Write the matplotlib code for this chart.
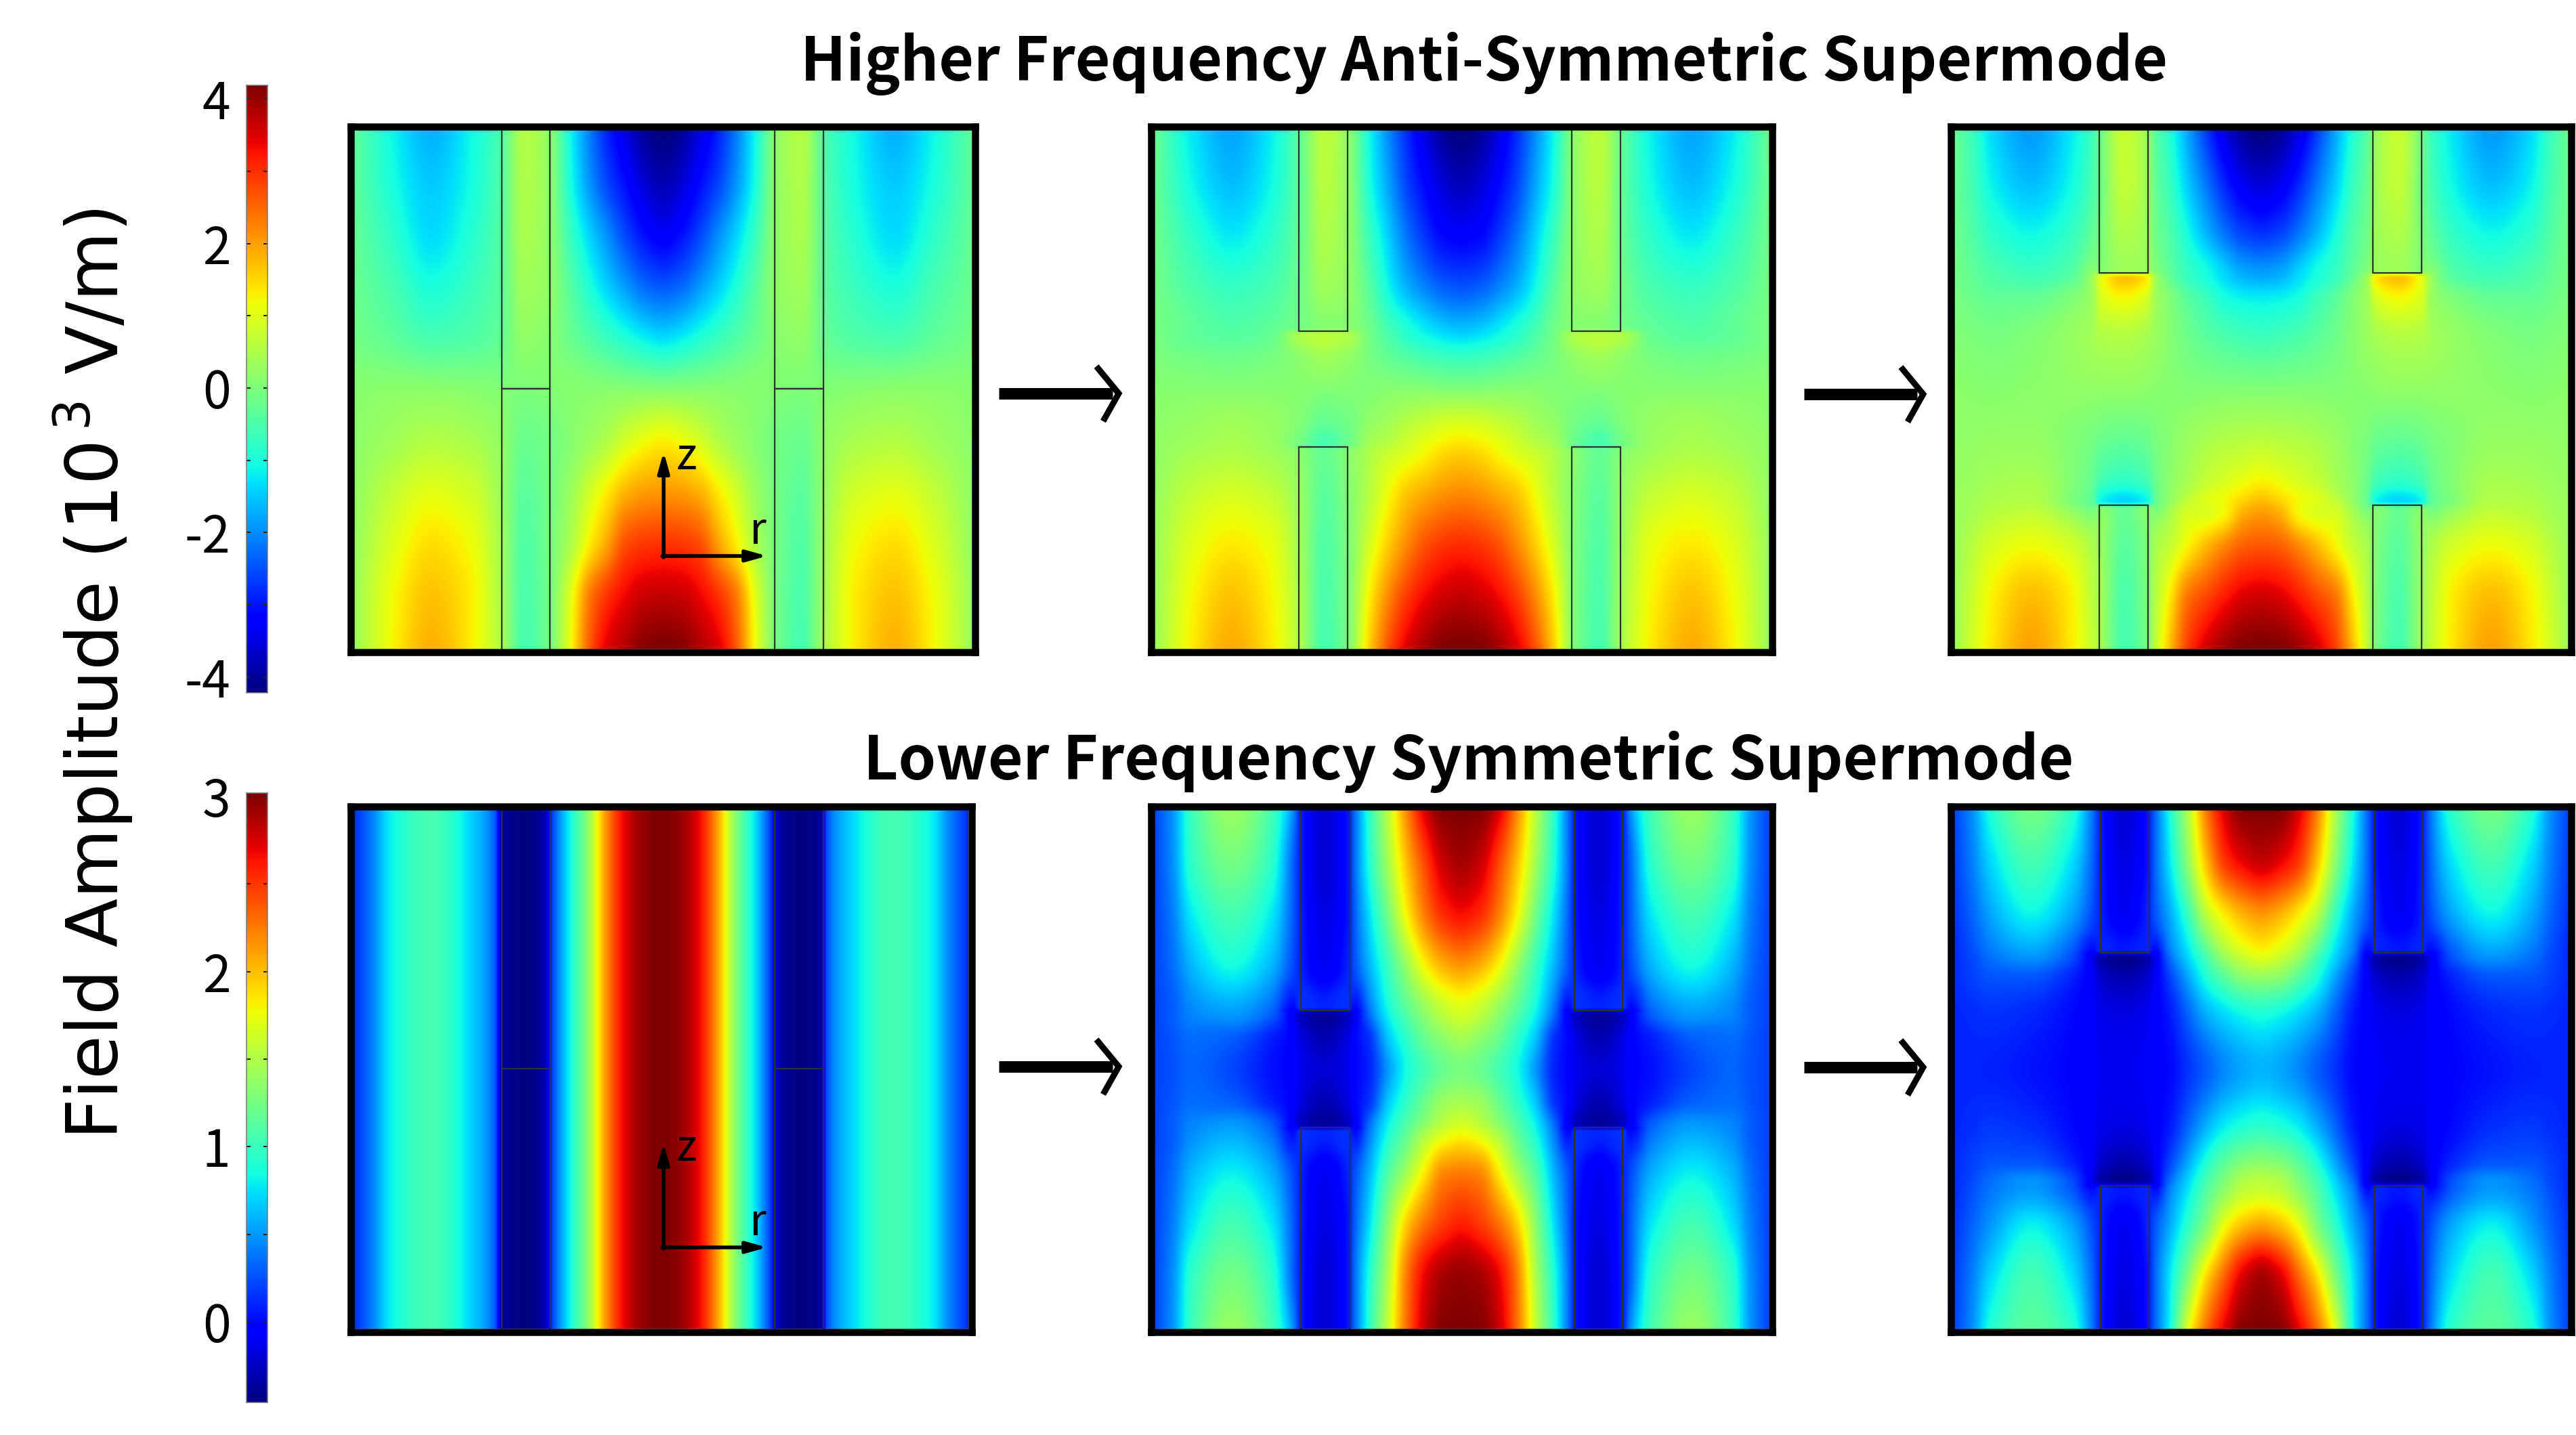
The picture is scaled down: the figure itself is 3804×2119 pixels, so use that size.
import numpy as np
import matplotlib
matplotlib.use("Agg")
import matplotlib.pyplot as plt
from matplotlib.patches import Rectangle

W, H = 3804, 2119
DPI = 100
PX = 72 / DPI  # points per pixel

TITLE_HIGH = "Higher Frequency Anti-Symmetric Supermode"
TITLE_LOW = "Lower Frequency Symmetric Supermode"
AMP_LABEL = "Field Amplitude (10$^{\\,3}$ V/m)"

# radial sample positions, rim of the cell to its axis (the field mirrors about 0.5)
R_KNOTS = [0, .06, .125, .19, .237, .276, .315, .35, .38, .41, .44, .47, .50]
R_KNOTS_UNIFORM = [0, .03, .06, .125, .19, .23, .24, .276, .31, .32, .35, .38, .41, .44, .47, .50]
R_KNOTS_EDGE = [0, .03, .06, .125, .19, .226, .237, .276, .315, .326, .35, .38, .41, .44, .47, .50]

# axial sample positions, top of the cell to the bottom
Z_GAP0 = [0, 1]
Z_GAP1 = [0, .1, .2, .3, .38, .395, .44, .5, .56, .605, .62, .7, .8, .9, 1]
Z_GAP2 = [0, .1, .2, .27, .285, .32, .4, .5, .6, .68, .715, .73, .8, .9, 1]
Z_HIGH0 = [0, .1, .2, .3, .4, .5, .6, .7, .8, .9, 1]

# anti-symmetric mode, field amplitude in 10^3 V/m
HIGH_A = [
    [-.3, -1.1, -1.7, -1.1, -.5, .55, .2, -1.1, -2.1, -2.9, -3.5, -4.05, -4.25],
    [-.3, -1.0, -1.5, -1.05, -.45, .5, .2, -1.0, -1.9, -2.6, -3.1, -3.6, -3.85],
    [-.25, -.8, -1.35, -.9, -.4, .45, .2, -.7, -1.4, -2.0, -2.6, -3.05, -3.3],
    [-.2, -.55, -1.0, -.7, -.35, .35, .2, -.4, -.95, -1.45, -1.9, -2.3, -2.45],
    [-.1, -.3, -.55, -.45, -.25, .2, .1, -.2, -.45, -.7, -.95, -1.2, -1.35],
    [.1, .15, .15, .1, .05, 0, .05, .1, .1, .1, .1, .1, .1],
    [.15, .35, .55, .45, .2, -.2, -.1, .1, .3, .55, .9, 1.15, 1.3],
    [.2, .7, 1.05, .85, .3, -.35, -.1, .3, .85, 1.35, 1.85, 2.05, 2.1],
    [.25, .95, 1.45, 1.15, .4, -.45, -.1, .5, 1.3, 2.0, 2.75, 2.95, 3.0],
    [.3, 1.15, 1.7, 1.3, .45, -.5, -.1, 1.0, 2.3, 3.0, 3.4, 3.65, 3.7],
    [.3, 1.2, 1.85, 1.3, .5, -.55, -.1, 1.15, 2.6, 3.5, 3.85, 4.15, 4.25],
]
HIGH_B = [
    [-.2, -1.25, -1.8, -1.2, -.3, .65, .2, -1.1, -2.0, -2.8, -3.5, -4.05, -4.25],
    [-.2, -1.1, -1.6, -1.1, -.3, .6, .2, -1.0, -1.8, -2.6, -3.15, -3.6, -3.8],
    [-.15, -.8, -1.25, -.85, -.25, .5, .2, -.7, -1.45, -2.2, -2.75, -3.15, -3.25],
    [-.1, -.5, -.75, -.55, -.15, .35, .2, -.4, -1.1, -1.7, -2.1, -2.4, -2.5],
    [-.05, -.3, -.45, -.3, -.1, .1, .1, -.15, -.6, -.95, -1.25, -1.5, -1.6],
    [-.05, -.3, -.4, -.25, .5, .65, .5, -.1, -.5, -.85, -1.1, -1.3, -1.4],
    [0, -.1, -.15, -.05, .15, .35, .2, -.05, -.25, -.4, -.55, -.65, -.7],
    [.1, .1, .1, .1, .1, .05, .05, .05, .1, .1, .1, .05, .05],
    [.15, .25, .35, .25, .05, -.25, -.1, .2, .35, .55, .7, .85, .9],
    [.2, .35, .45, .3, -.1, -.55, -.2, .4, .6, .85, 1.1, 1.3, 1.4],
    [.2, .4, .5, .35, .1, -.25, .1, .5, .75, .95, 1.2, 1.45, 1.55],
    [.25, .7, .9, .7, .25, -.35, .05, .6, 1.15, 1.65, 1.9, 2.1, 2.2],
    [.3, 1.0, 1.35, 1.1, .35, -.45, 0, .9, 1.6, 2.2, 2.7, 2.95, 3.05],
    [.3, 1.2, 1.7, 1.25, .45, -.5, 0, 1.3, 2.2, 2.9, 3.35, 3.6, 3.7],
    [.3, 1.3, 1.9, 1.35, .5, -.55, 0, 1.6, 2.7, 3.5, 3.95, 4.2, 4.25],
]
HIGH_C = [
    [-.2, -.7, -1.35, -1.9, -1.25, -.6, -.2, .75, .25, -.3, -.9, -1.8, -2.7, -3.5, -4.05, -4.25],
    [-.2, -.6, -1.15, -1.6, -1.1, -.5, -.2, .7, .3, -.2, -.7, -1.5, -2.2, -2.9, -3.4, -3.6],
    [-.15, -.45, -.8, -1.1, -.75, -.25, -.05, .5, .3, -.1, -.45, -1.05, -1.65, -2.2, -2.6, -2.75],
    [-.1, -.3, -.5, -.7, -.45, .1, .1, .35, .3, .1, -.3, -.75, -1.05, -1.45, -1.8, -1.9],
    [-.1, -.27, -.45, -.6, -.35, .4, 1.0, 1.7, 1.3, .45, -.2, -.7, -1.0, -1.35, -1.65, -1.75],
    [-.05, -.18, -.3, -.3, .0, .35, .9, 1.25, .9, .4, .05, -.4, -.7, -1.05, -1.2, -1.25],
    [.05, .0, -.05, .05, .25, .4, .5, .55, .4, .3, .1, -.15, -.35, -.5, -.6, -.65],
    [.15, .12, .1, .15, .2, .2, .2, .2, .15, .12, .1, .05, .05, .05, .05, .05],
    [.2, .22, .25, .25, .05, -.1, -.2, -.3, -.2, -.05, .1, .3, .45, .55, .6, .65],
    [.25, .32, .4, .45, .05, -.3, -.6, -.85, -.6, -.25, .15, .45, .75, .95, 1.15, 1.3],
    [.3, .38, .5, .55, .0, -.4, -1.1, -1.4, -1.1, -.35, .2, .7, 1.0, 1.2, 1.55, 1.75],
    [.3, .4, .55, .65, .2, -.1, .1, -.25, .1, -.05, .35, .85, .95, 1.2, 1.75, 1.95],
    [.3, .6, .9, 1.15, .85, .45, .3, -.35, .05, .4, .7, 1.25, 1.75, 2.2, 2.55, 2.65],
    [.3, .8, 1.25, 1.75, 1.3, .6, .4, -.5, .05, .5, 1.3, 2.4, 2.8, 3.2, 3.5, 3.6],
    [.3, .9, 1.35, 2.0, 1.35, .7, .45, -.55, 0, .6, 1.7, 2.9, 3.6, 4.0, 4.2, 4.25],
]

# symmetric mode, field amplitude in 10^3 V/m
LOW_A = [
    [.12, .42, .8, 1.05, .7, .25, -.35, -.45, -.3, .1, .8, 1.35, 2.15, 2.7, 2.95, 3.02],
    [.12, .42, .8, 1.05, .7, .25, -.35, -.45, -.3, .1, .8, 1.35, 2.15, 2.7, 2.95, 3.02],
]
LOW_B = [
    [.2, .5, 1.0, 1.4, 1.05, .45, .1, -.2, .05, .35, .95, 1.55, 2.2, 2.75, 3.0, 3.02],
    [.2, .48, .95, 1.25, .95, .3, .1, -.2, .05, .35, .9, 1.45, 2.0, 2.45, 2.8, 2.9],
    [.2, .42, .78, 1.05, .78, .28, .1, -.15, .05, .3, .75, 1.25, 1.8, 2.25, 2.55, 2.65],
    [.2, .36, .6, .85, .6, .22, .1, -.1, .1, .25, .6, 1.0, 1.4, 1.8, 2.05, 2.15],
    [.2, .3, .45, .55, .35, .0, .15, .1, .15, .0, .4, .85, 1.15, 1.4, 1.6, 1.7],
    [.2, .3, .43, .5, .3, -.1, -.25, -.38, -.25, -.1, .35, .8, 1.1, 1.35, 1.55, 1.65],
    [.2, .27, .35, .3, .08, -.05, -.15, -.3, -.15, -.02, .15, .65, .95, 1.2, 1.35, 1.45],
    [.2, .26, .32, .22, .03, -.05, -.12, -.2, -.12, -.03, .1, .5, .85, 1.05, 1.2, 1.27],
    [.2, .27, .35, .3, .08, -.05, -.15, -.3, -.15, -.02, .15, .65, .95, 1.2, 1.4, 1.45],
    [.2, .3, .43, .5, .3, -.1, -.25, -.38, -.25, -.1, .35, .8, 1.1, 1.35, 1.55, 1.65],
    [.2, .3, .45, .55, .35, .0, .15, .1, .15, .0, .4, .85, 1.15, 1.45, 1.65, 1.75],
    [.2, .36, .6, .8, .58, .22, .1, -.1, .1, .25, .6, 1.1, 1.45, 1.85, 2.2, 2.25],
    [.2, .42, .75, 1.05, .78, .28, .1, -.15, .05, .3, .75, 1.35, 1.95, 2.3, 2.5, 2.6],
    [.2, .48, .95, 1.25, .95, .3, .1, -.2, .05, .35, .9, 1.5, 2.25, 2.7, 2.9, 2.95],
    [.2, .5, 1.0, 1.4, 1.05, .45, .1, -.2, .05, .35, .95, 1.6, 2.3, 2.8, 3.0, 3.02],
]
LOW_C = [
    [.2, .48, .9, 1.25, .95, .35, .1, -.2, .05, .3, .85, 1.5, 2.25, 2.75, 3.0, 3.02],
    [.18, .42, .72, 1.05, .75, .3, .1, -.15, .05, .3, .75, 1.35, 2.0, 2.5, 2.7, 2.8],
    [.15, .33, .55, .82, .55, .22, .1, -.1, .1, .25, .55, 1.0, 1.55, 1.85, 2.05, 2.15],
    [.12, .25, .4, .55, .3, .0, .1, .05, .1, .0, .4, .75, 1.15, 1.5, 1.7, 1.8],
    [.12, .23, .36, .48, .25, -.15, -.32, -.42, -.32, -.15, .33, .7, 1.05, 1.4, 1.6, 1.7],
    [.12, .2, .27, .28, .1, -.1, -.22, -.32, -.22, -.1, .2, .55, .9, 1.15, 1.35, 1.4],
    [.1, .12, .14, .1, .0, -.08, -.12, -.15, -.1, -.05, .05, .3, .55, .7, .8, .85],
    [.1, .1, .09, .04, -.02, -.07, -.1, -.1, -.08, -.04, 0, .15, .3, .45, .55, .6],
    [.1, .13, .16, .12, .0, -.08, -.12, -.15, -.1, -.05, .05, .3, .55, .75, .85, .9],
    [.12, .2, .27, .28, .1, -.1, -.22, -.32, -.22, -.1, .2, .55, .9, 1.15, 1.3, 1.35],
    [.12, .23, .36, .48, .25, -.15, -.32, -.42, -.32, -.15, .33, .7, 1.05, 1.3, 1.5, 1.55],
    [.12, .25, .38, .5, .28, .0, .1, .05, .1, .0, .4, .75, 1.1, 1.35, 1.55, 1.6],
    [.15, .32, .5, .8, .55, .22, .1, -.1, .1, .25, .55, .95, 1.3, 1.75, 2.0, 2.1],
    [.18, .42, .72, 1.05, .75, .3, .1, -.15, .05, .3, .75, 1.3, 1.9, 2.35, 2.75, 2.9],
    [.2, .48, .9, 1.15, .95, .35, .1, -.2, .05, .3, .8, 1.7, 2.3, 2.72, 3.0, 3.02],
]

HIGH_RANGE = (-4.22, 4.19)
LOW_RANGE = (-0.46, 3.02)
HIGH_TICKS = [-4, -3, -2, -1, 0, 1, 2, 3, 4]
HIGH_TICK_LABELS = ["-4", "", "-2", "", "0", "", "2", "", "4"]
LOW_TICKS = [0, .5, 1, 1.5, 2, 2.5, 3]
LOW_TICK_LABELS = ["0", "", "1", "", "2", "", "3"]


def monotone_resample(x, y, xq):
    """Piecewise-cubic monotone resampling of the rows of y along x."""
    x = np.asarray(x, float)
    y = np.asarray(y, float)
    h = np.diff(x)[:, None]
    d = np.diff(y, axis=0) / h
    m = np.zeros_like(y)
    m[0], m[-1] = d[0], d[-1]
    if len(x) > 2:
        w1 = 2 * h[1:] + h[:-1]
        w2 = h[1:] + 2 * h[:-1]
        same = d[:-1] * d[1:] > 0
        safe0 = np.where(same, d[:-1], 1.0)
        safe1 = np.where(same, d[1:], 1.0)
        m[1:-1] = np.where(same, (w1 + w2) / (w1 / safe0 + w2 / safe1), 0.0)
    idx = np.clip(np.searchsorted(x, xq, side="right") - 1, 0, len(x) - 2)
    hh = (x[idx + 1] - x[idx])
    t = ((xq - x[idx]) / hh)[:, None]
    hh = hh[:, None]
    return ((2 * t**3 - 3 * t**2 + 1) * y[idx] + (t**3 - 2 * t**2 + t) * hh * m[idx]
            + (-2 * t**3 + 3 * t**2) * y[idx + 1] + (t**3 - t**2) * hh * m[idx + 1])


def field_image(r_knots, z_knots, table, nz=766, nr=910):
    """Mirror a half-cell table about the axis and resample it to a fine image."""
    table = np.asarray(table, float)
    full = np.hstack([table, table[:, -2::-1]])
    r_half = np.asarray(r_knots)
    r_full = np.concatenate([r_half, 1 - r_half[-2::-1]])
    zq = (np.arange(nz) + .5) / nz
    rq = (np.arange(nr) + .5) / nr
    along_z = monotone_resample(z_knots, full, zq)
    return monotone_resample(r_full, along_z.T, rq).T


def px_axes(fig, x0, y0, x1, y1, **kw):
    return fig.add_axes([x0 / W, 1 - y1 / H, (x1 - x0) / W, (y1 - y0) / H], **kw)


fig = plt.figure(figsize=(W / DPI, H / DPI), dpi=DPI, facecolor="white")

FRAME = 10.5
HIGH_Y, LOW_Y = (192, 958), (1196, 1962)
ROD_EDGES = {
    "high": [((741, 812), (1144, 1216)), ((1918, 1990), (2321, 2393)), ((3100, 3172), (3504, 3576))],
    "low": [((741, 812), (1144, 1216)), ((1921, 1993), (2325, 2396)), ((3102, 3174), (3506, 3578))],
}
PANELS = [
    (523, 1435, HIGH_Y, R_KNOTS, Z_HIGH0, HIGH_A, HIGH_RANGE, ROD_EDGES["high"][0], (574, 574)),
    (1705, 2612, HIGH_Y, R_KNOTS, Z_GAP1, HIGH_B, HIGH_RANGE, ROD_EDGES["high"][1], (489, 660)),
    (2886, 3792, HIGH_Y, R_KNOTS_EDGE, Z_GAP2, HIGH_C, HIGH_RANGE, ROD_EDGES["high"][2], (403, 746)),
    (523, 1430, LOW_Y, R_KNOTS_UNIFORM, Z_GAP0, LOW_A, LOW_RANGE, ROD_EDGES["low"][0], (1578, 1578)),
    (1705, 2612, LOW_Y, R_KNOTS_EDGE, Z_GAP1, LOW_B, LOW_RANGE, ROD_EDGES["low"][1], (1492, 1665)),
    (2886, 3792, LOW_Y, R_KNOTS_EDGE, Z_GAP2, LOW_C, LOW_RANGE, ROD_EDGES["low"][2], (1407, 1751)),
]

for x0, x1, (y0, y1), r_knots, z_knots, table, vrange, rods, tips in PANELS:
    half = FRAME / 2
    ax = px_axes(fig, x0 - half, y0 - half, x1 + half, y1 + half)
    ax.imshow(field_image(r_knots, z_knots, table), cmap="jet", vmin=vrange[0], vmax=vrange[1],
              extent=[x0, x1, y1, y0], aspect="auto", interpolation="bilinear")
    ax.set_xlim(x0 - half, x1 + half)
    ax.set_ylim(y1 + half, y0 - half)
    ax.set_xticks([])
    ax.set_yticks([])
    for s in ax.spines.values():
        s.set_linewidth(FRAME * PX)
        s.set_color("black")
    for ra, rb in rods:
        for za, zb in ((y0 - 10, tips[0]), (tips[1], y1 + 10)):
            ax.add_patch(Rectangle((ra, za), rb - ra, zb - za, fill=False,
                                   ec="#2b3030", lw=2.2 * PX, zorder=3))
    for s in ax.spines.values():
        s.set_zorder(5)

# colour scales beside each row
SCALES = [
    (126, 1023, HIGH_RANGE, HIGH_TICKS, HIGH_TICK_LABELS),
    (1171, 2071, LOW_RANGE, LOW_TICKS, LOW_TICK_LABELS),
]
for y0, y1, vrange, ticks, labels in SCALES:
    cax = px_axes(fig, 364, y0, 395, y1)
    grad = np.linspace(vrange[1], vrange[0], 512)[:, None]
    cax.imshow(grad, cmap="jet", vmin=vrange[0], vmax=vrange[1], aspect="auto",
               extent=[0, 1, vrange[0], vrange[1]])
    cax.set_xticks([])
    cax.yaxis.set_ticks_position("both")
    cax.set_yticks(ticks)
    cax.set_yticklabels(labels, family="Noto Sans CJK SC", fontsize=54, color="black")
    cax.tick_params(axis="y", direction="in", length=4, width=2 * PX,
                    color="#222222", pad=17)
    for s in cax.spines.values():
        s.set_linewidth(1.5 * PX)
        s.set_color("#777777")

# full-figure overlay in pixel coordinates for captions and arrows
ov = fig.add_axes([0, 0, 1, 1], facecolor="none")
ov.set_xlim(0, W)
ov.set_ylim(H, 0)
ov.axis("off")

title_font = ["Noto Sans CJK SC", "DejaVu Sans"]
ov.text(2192, 94, TITLE_HIGH, family=title_font, weight="bold", fontsize=64, ha="center", va="center")
ov.text(2169, 1125, TITLE_LOW, family=title_font, weight="bold", fontsize=64, ha="center", va="center")
ov.text(138, 995, AMP_LABEL, family="DejaVu Sans", fontsize=76, rotation=90, ha="center", va="center")

for ox, oy in ((980, 821), (980, 1842)):
    ov.annotate("", xy=(ox, oy - 154), xytext=(ox, oy + 2),
                arrowprops=dict(arrowstyle="-|>,head_length=1.8,head_width=.5", lw=5.5 * PX,
                                color="black", shrinkA=0, shrinkB=0, mutation_scale=10))
    ov.annotate("", xy=(ox + 153, oy), xytext=(ox - 2, oy),
                arrowprops=dict(arrowstyle="-|>,head_length=1.8,head_width=.5", lw=5.5 * PX,
                                color="black", shrinkA=0, shrinkB=0, mutation_scale=10))
    ov.text(ox + 34, oy - 146, "z", family="Noto Sans CJK SC", fontsize=46, ha="center", va="center")
    ov.text(ox + 139, oy - 36, "r", family="Noto Sans CJK SC", fontsize=46, ha="center", va="center")

# progression arrows between panels
for x0, x1, y in ((1475, 1655, 581), (2664, 2843, 582), (1475, 1655, 1575), (2664, 2843, 1576)):
    ov.plot([x0, x1 - 12], [y, y], color="black", lw=17 * PX, solid_capstyle="butt")
    ov.plot([x1 - 36, x1 - 3, x1 - 26], [y - 40, y, y + 41], color="black", lw=9 * PX,
            solid_joinstyle="miter", solid_capstyle="butt")

fig.savefig("out.png", dpi=DPI)
